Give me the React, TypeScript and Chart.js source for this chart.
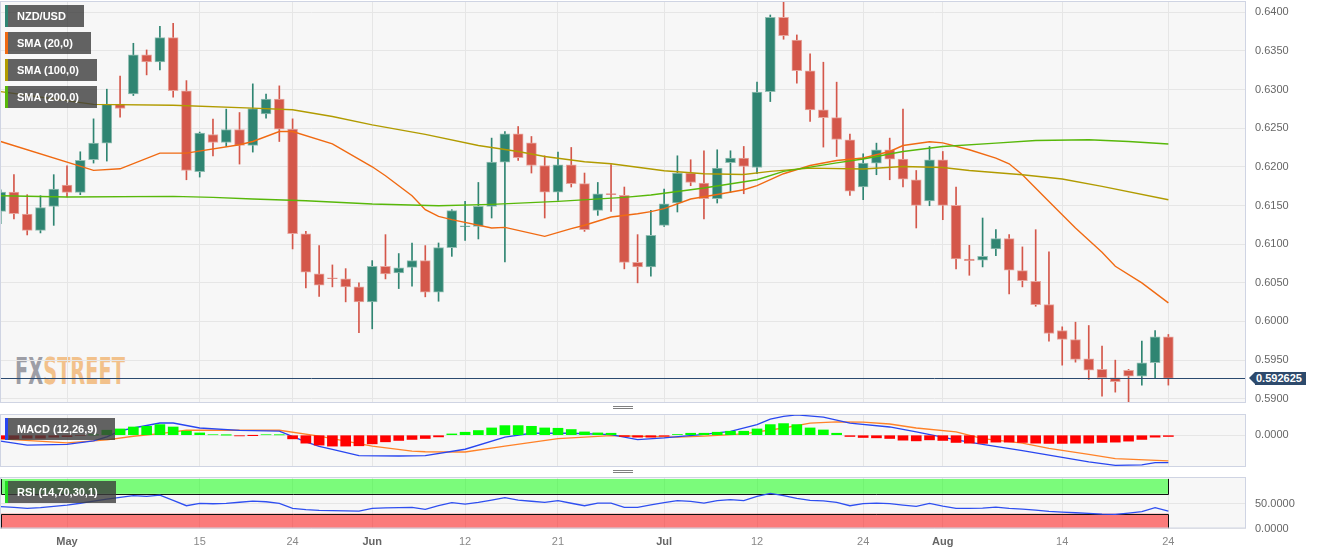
import React, { useEffect, useRef } from "react";
import { Chart, registerables } from "chart.js";

Chart.register(...registerables);

const FONT = "'Liberation Sans', Arial, Helvetica, sans-serif";

// ---------------- categories (trading days) ----------------
const firstDay = "2023-04-24";
const dayCount = 89;
function tradingDays(start: string, n: number): string[] {
  const out: string[] = [];
  const d = new Date(start + "T00:00:00Z");
  while (out.length < n) {
    const wd = d.getUTCDay();
    if (wd !== 0 && wd !== 6) out.push(d.toISOString().slice(0, 10));
    d.setUTCDate(d.getUTCDate() + 1);
  }
  return out;
}
const dates = tradingDays(firstDay, dayCount);

const xTickDates = ["2023-05-01", "2023-05-15", "2023-05-24", "2023-06-01", "2023-06-12", "2023-06-21", "2023-07-03", "2023-07-12", "2023-07-24", "2023-08-01", "2023-08-14", "2023-08-24"];
const xTickLabels = ["May", "15", "24", "Jun", "12", "21", "Jul", "12", "24", "Aug", "14", "24"];
const monthLabels = ["May", "Jun", "Jul", "Aug"];

const priceTicks = [0.59, 0.595, 0.6, 0.605, 0.61, 0.615, 0.62, 0.625, 0.63, 0.635, 0.64];
const macdTicks = [0];
const rsiTicks = [0, 50];

// ---------------- NZD/USD daily candles ----------------
const opens = [
  0.61424, 0.61674, 0.6139, 0.61178, 0.61488,
  0.61765, 0.61669, 0.62092, 0.62307, 0.62811,
  0.62944, 0.63448, 0.63358, 0.63672, 0.62983,
  0.61937, 0.62419, 0.62315, 0.62483, 0.62277,
  0.62686, 0.62876, 0.62488, 0.61132, 0.60615,
  0.60565, 0.6055, 0.60447, 0.60253, 0.60713,
  0.60628, 0.607, 0.60787, 0.60377, 0.60955,
  0.61225, 0.6123, 0.61488, 0.62062, 0.62428,
  0.62311, 0.62018, 0.61674, 0.62027, 0.61782,
  0.61437, 0.61649, 0.61631, 0.60765, 0.60705,
  0.61243, 0.61532, 0.6192, 0.61791, 0.61588,
  0.62053, 0.62114, 0.61992, 0.62974, 0.63935,
  0.63642, 0.63242, 0.62738, 0.62638, 0.6235,
  0.61739, 0.62049, 0.62221, 0.62101, 0.61833,
  0.61558, 0.62092, 0.61501, 0.60806, 0.60791,
  0.60938, 0.61071, 0.60658, 0.60519, 0.60218,
  0.59882, 0.59766, 0.59517, 0.59379, 0.59271,
  0.59366, 0.59292, 0.59465, 0.59801,
];
const highs = [
  0.61704, 0.61899, 0.6164, 0.61627, 0.61899,
  0.62014, 0.62195, 0.62621, 0.63005, 0.63173,
  0.63599, 0.63513, 0.63819, 0.63858, 0.63116,
  0.6245, 0.62618, 0.62747, 0.62703, 0.63074,
  0.62941, 0.63048, 0.62621, 0.61165, 0.60981,
  0.60731, 0.60683, 0.60499, 0.60787, 0.61123,
  0.60878, 0.61015, 0.60981, 0.61015, 0.61446,
  0.61553, 0.61798, 0.62372, 0.62457, 0.62522,
  0.62393, 0.62143, 0.62191, 0.62251, 0.6192,
  0.61798, 0.62031, 0.61739, 0.61123, 0.61437,
  0.61713, 0.62143, 0.62092, 0.62208, 0.62221,
  0.62208, 0.62264, 0.63096, 0.63965, 0.64129,
  0.63707, 0.63461, 0.63354, 0.63096, 0.62424,
  0.62169, 0.62307, 0.62372, 0.62747, 0.61953,
  0.62264, 0.62199, 0.61739, 0.60985, 0.61338,
  0.61187, 0.61123, 0.60964, 0.61187, 0.60899,
  0.5993, 0.5999, 0.59947, 0.5968, 0.59499,
  0.59379, 0.59744, 0.59882, 0.59831,
];
const lows = [
  0.61265, 0.61326, 0.61119, 0.61145, 0.61243,
  0.6161, 0.6164, 0.62049, 0.62075, 0.62643,
  0.62923, 0.6319, 0.63255, 0.62902, 0.61833,
  0.61868, 0.62143, 0.62264, 0.62036, 0.62191,
  0.6263, 0.62328, 0.60938, 0.60434, 0.60325,
  0.60447, 0.60253, 0.59853, 0.59904, 0.6055,
  0.60425, 0.60455, 0.60318, 0.60261, 0.60842,
  0.61049, 0.61067, 0.61338, 0.6077, 0.62083,
  0.6192, 0.61338, 0.61566, 0.61739, 0.61165,
  0.61372, 0.61424, 0.6068, 0.60499, 0.60584,
  0.6123, 0.61416, 0.61756, 0.61326, 0.61532,
  0.61669, 0.61652, 0.61911, 0.62845, 0.63651,
  0.63083, 0.62587, 0.62256, 0.62134, 0.61631,
  0.61575, 0.61898, 0.61833, 0.61739, 0.61209,
  0.61497, 0.61316, 0.6068, 0.60597, 0.60705,
  0.60851, 0.60357, 0.60447, 0.60196, 0.59744,
  0.59434, 0.59473, 0.59249, 0.59034, 0.59085,
  0.58949, 0.59176, 0.59271, 0.59176,
];
const closes = [
  0.61674, 0.61394, 0.61178, 0.61472, 0.61713,
  0.61669, 0.62083, 0.62307, 0.62811, 0.62755,
  0.63448, 0.63358, 0.63672, 0.62987, 0.61953,
  0.62437, 0.62315, 0.62483, 0.62277, 0.62755,
  0.62876, 0.62488, 0.61136, 0.60636, 0.60468,
  0.60552, 0.60447, 0.60253, 0.60713, 0.60615,
  0.60692, 0.60787, 0.60377, 0.60955, 0.61433,
  0.61235, 0.61488, 0.62062, 0.62428, 0.62118,
  0.62018, 0.61674, 0.62027, 0.61782, 0.61187,
  0.61652, 0.6164, 0.60765, 0.60705, 0.61114,
  0.61523, 0.6192, 0.61798, 0.61588, 0.61984,
  0.62114, 0.62005, 0.62966, 0.63935, 0.63698,
  0.63245, 0.62738, 0.62638, 0.62354, 0.61687,
  0.62049, 0.62221, 0.62101, 0.61842, 0.61501,
  0.62092, 0.61501, 0.60809, 0.60787, 0.60842,
  0.61071, 0.60662, 0.60528, 0.60218, 0.59844,
  0.59766, 0.59508, 0.59369, 0.59271, 0.5922,
  0.59292, 0.59465, 0.59801, 0.592625,
];

// ---------------- moving averages: [day index, value] ----------------
const sma20Pts: [number, number][] = [
  [0, 0.62328], [7, 0.61954], [9, 0.61975], [12, 0.62178], [14, 0.62178], [18, 0.62286], [19, 0.62328],
  [21, 0.62457], [22, 0.62457], [25, 0.62298], [28, 0.62001], [29, 0.61885], [31, 0.61627], [32, 0.61446],
  [33, 0.61359], [34, 0.61317], [37, 0.61209], [38, 0.61217], [41, 0.61101], [43, 0.612], [44, 0.61245],
  [46, 0.61351], [48, 0.61394], [49, 0.6142], [50, 0.61459], [52, 0.61584], [54, 0.61643], [56, 0.61704],
  [57, 0.61756], [59, 0.61911], [61, 0.62018], [63, 0.62083], [65, 0.62114], [67, 0.62199], [68, 0.62276],
  [70, 0.62324], [71, 0.62311], [73, 0.62221], [75, 0.62114], [76, 0.6204], [77, 0.61898], [79, 0.61553],
  [81, 0.61209], [83, 0.60894], [84, 0.60713], [86, 0.60499], [88, 0.6024],
];
const sma100Pts: [number, number][] = [
  [0, 0.62974], [7, 0.62809], [13, 0.62798], [19, 0.6276], [22, 0.62738], [25, 0.62651], [28, 0.62544],
  [32, 0.62421], [36, 0.62276], [39, 0.62199], [41, 0.62134], [44, 0.62066], [46, 0.6204], [50, 0.6195],
  [53, 0.61911], [56, 0.61902], [58, 0.61941], [61, 0.61984], [65, 0.61972], [68, 0.62005], [71, 0.61992],
  [73, 0.61953], [77, 0.61898], [80, 0.61842], [83, 0.61747], [88, 0.61575],
];
const sma200Pts: [number, number][] = [
  [0, 0.61627], [5, 0.6161], [13, 0.61618], [16, 0.61605], [19, 0.61584], [23, 0.61562], [28, 0.61519],
  [33, 0.61497], [37, 0.61514], [42, 0.61553], [47, 0.61605], [49, 0.61636], [53, 0.61726], [57, 0.61833],
  [59, 0.61941], [63, 0.62052], [65, 0.62101], [68, 0.62199], [71, 0.62264], [75, 0.62307], [78, 0.62341],
  [82, 0.6235], [85, 0.62328], [88, 0.62295],
];

// ---------------- MACD (12,26,9) ----------------
const macdPts: [number, number][] = [
  [0, -0.00112], [2, -0.00187], [5, -0.00175], [7, -0.00106], [8, -0.00032], [9, 0.0008], [10, 0.00136],
  [12, 0.0023], [13, 0.0023], [15, 0.00136], [18, 0.0009], [21, 0.00075], [23, -0.00125], [24, -0.00209],
  [25, -0.00269], [27, -0.00386], [30, -0.00392], [32, -0.00386], [35, -0.00265], [38, -0.00037], [40, 0.00037],
  [43, 0.00037], [46, 0.00011], [48, -0.00082], [50, -0.0005], [53, 0.00015], [55, 0.00071], [57, 0.00198],
  [58, 0.00304], [59, 0.00354], [60, 0.00384], [62, 0.00341], [64, 0.00229], [67, 0.00155], [69, 0.00062],
  [72, -0.00088], [74, -0.00172], [77, -0.00293], [79, -0.00377], [82, -0.00504], [84, -0.00569], [86, -0.0056],
  [87, -0.00517], [88, -0.00517],
];
const signalPts: [number, number][] = [
  [0, -0.00069], [5, -0.00144], [8, -0.0009], [10, -0.0002], [12, 0.0003], [14, 0.00093], [17, 0.00093],
  [21, 0.00093], [24, -0.00019], [28, -0.00205], [31, -0.00299], [32, -0.00312], [35, -0.00317], [38, -0.00205],
  [42, -0.00063], [46, -0.00007], [51, -0.00037], [53, -0.00019], [56, 0.00024], [59, 0.00136], [61, 0.00228],
  [63, 0.00253], [65, 0.00245], [67, 0.00211], [69, 0.00136], [72, 0.00062], [74, -0.00063], [77, -0.00149],
  [79, -0.0025], [82, -0.00362], [84, -0.00442], [88, -0.00485],
];
const histogram = [
  -0.00069, -0.00065, -0.00056, -0.00056, -0.00037, -0.00028, -0.00009, 0.00004,
  0.00094, 0.00118, 0.00155, 0.00168, 0.002, 0.00155, 0.00075, 0.00043,
  0.00009, 0.00001, -0.00013, -0.00001, 0.00009, 0.00006,
  -0.00069, -0.0015, -0.00187, -0.00206, -0.00206, -0.002, -0.00163, -0.00125, -0.00099, -0.0008, -0.00062, -0.00032,
  0.00024, 0.00056, 0.00088, 0.00137, 0.00181, 0.00181, 0.00168, 0.00137, 0.00131, 0.00107, 0.00062, 0.00043, 0.00037,
  -0.00024, -0.00037, -0.00037, -0.00019,
  0.00013, 0.00037, 0.00037, 0.00056, 0.00075, 0.00075, 0.00118, 0.002, 0.00219, 0.002, 0.00137, 0.00099, 0.00037,
  -0.00024, -0.00043, -0.0005, -0.00062, -0.00094, -0.00107, -0.00088, -0.00099, -0.00137, -0.0015, -0.00155,
  -0.00131, -0.00131, -0.00137, -0.0015, -0.00155, -0.00155, -0.0015, -0.0015, -0.00137, -0.00131, -0.00112,
  -0.0008, -0.00037, -0.00024,
];

// ---------------- RSI (14) ----------------
const rsi = [
  44, 42.5, 40.6, 42, 44.5, 47.3, 51, 55.4, 59.4, 63,
  66.3, 65, 67.5, 57, 46, 50.7, 50, 50.7, 53, 55.4,
  54, 50.7, 40.6, 38, 36.5, 36, 35.5, 35.1, 40.6, 41.5,
  42, 42.6, 38.5, 46, 52.1, 49.3, 52.7, 57.5, 62.3, 57.4,
  55, 52.7, 56.2, 51, 46, 51.3, 51.3, 42.6, 42.6, 47.5,
  52.1, 56.2, 54.8, 51.3, 56.2, 58.2, 56.2, 64.9, 71, 66.3,
  60.9, 56.8, 55.8, 52.7, 46, 50.1, 51.3, 50.1, 47.3, 44.6,
  50.7, 45.2, 40.6, 40.6, 41.2, 43.2, 40.6, 39.1, 37.1, 34.5,
  33.1, 31.8, 30.4, 29, 28.4, 31, 33.9, 42, 35.1,
];
const rsiOverbought = 70;
const rsiOversold = 30;
const rsiTop = 100;
const rsiBottom = 0;

// ---------------- styling ----------------
const GREEN = "#2f8572";
const RED = "#d4574a";
const GREEN_EDGE = "#93beb3";
const RED_EDGE = "#e7a79f";
const GRID = "#e6e6e6";
const FRAME = "#cfd4e3";
const X_MIN = -0.05;
const X_MAX = 93.85;
const AXIS_W = 77;

const toXY = (p: [number, number][]) => p.map(([x, y]) => ({ x, y }));

function Tag({ top, color, text }: { top: number; color: string; text: string }) {
  return (
    <div
      style={{
        position: "absolute",
        left: 5,
        top,
        height: 22,
        background: "rgba(60,60,60,0.8)",
        borderLeft: `3px solid ${color}`,
        padding: "0 18px 0 9px",
        color: "#fff",
        fontFamily: FONT,
        fontWeight: "bold",
        fontSize: 11,
        lineHeight: "22px",
        whiteSpace: "nowrap",
        boxSizing: "border-box",
      }}
    >
      {text}
    </div>
  );
}

function Handle({ top }: { top: number }) {
  return (
    <div
      style={{
        position: "absolute",
        left: 613,
        top,
        width: 20,
        height: 1,
        borderTop: "1px solid #808080",
        borderBottom: "1px solid #808080",
      }}
    />
  );
}

export default function App() {
  const mainRef = useRef<HTMLCanvasElement | null>(null);
  const macdRef = useRef<HTMLCanvasElement | null>(null);
  const rsiRef = useRef<HTMLCanvasElement | null>(null);
  const tagRef = useRef<HTMLDivElement | null>(null);

  useEffect(() => {
    Chart.defaults.font.family = FONT;
    Chart.defaults.font.size = 11;
    const n = dates.length;
    const idx = dates.map((_, i) => i);
    const xTickIdx = xTickDates.map((d) => dates.indexOf(d));
    const labelAt = (v: number) => {
      const k = xTickIdx.indexOf(Math.round(v));
      return k >= 0 ? xTickLabels[k] : "";
    };
    const isMonth = (v: number) => monthLabels.includes(labelAt(v));
    const up = idx.map((i) => closes[i] >= opens[i]);

    const xAxis = (show: boolean, h: number): any => ({
      type: "linear",
      min: X_MIN,
      max: X_MAX,
      offset: false,
      afterBuildTicks: (s: any) => {
        s.ticks = xTickIdx.map((v) => ({ value: v }));
      },
      afterFit: (s: any) => {
        s.height = h;
        s.paddingLeft = 0;
        s.paddingRight = 0;
      },
      grid: { color: GRID, drawTicks: false, offset: false },
      border: { display: false },
      ticks: {
        display: show,
        autoSkip: false,
        maxRotation: 0,
        minRotation: 0,
        padding: 7,
        callback: (v: any) => labelAt(Number(v)),
        font: (c: any) => ({ family: FONT, size: 11, weight: isMonth(c.tick ? c.tick.value : -1) ? "bold" : "normal" }),
        color: (c: any) => (isMonth(c.tick ? c.tick.value : -1) ? "#666" : "#888"),
      },
    });
    const yAxis = (min: number, max: number, ticks: number[]): any => ({
      position: "right",
      min,
      max,
      afterBuildTicks: (s: any) => {
        s.ticks = ticks.map((v) => ({ value: v }));
      },
      afterFit: (s: any) => {
        s.width = AXIS_W;
        s.paddingTop = 0;
        s.paddingBottom = 0;
      },
      grid: { color: GRID, drawTicks: false },
      border: { display: false },
      ticks: { padding: 9, color: "#666", font: { family: FONT, size: 11 }, callback: (v: any) => Number(v).toFixed(4) },
    });
    const frame = (bg: boolean) => ({
      id: "frame" + (bg ? "bg" : ""),
      beforeDraw(chart: any) {
        if (!bg) return;
        const { ctx, chartArea: a } = chart;
        ctx.save();
        ctx.fillStyle = "#f7f7f7";
        ctx.fillRect(a.left, a.top, a.right - a.left, a.bottom - a.top);
        ctx.restore();
      },
      afterDraw(chart: any) {
        const { ctx, chartArea: a } = chart;
        ctx.save();
        ctx.strokeStyle = FRAME;
        ctx.lineWidth = 1;
        ctx.strokeRect(a.left + 0.5, a.top + 0.5, a.right - a.left - 1, a.bottom - a.top - 1);
        ctx.restore();
      },
    });
    const common: any = {
      responsive: false,
      maintainAspectRatio: false,
      animation: false,
      events: [],
      plugins: { legend: { display: false }, tooltip: { enabled: false } },
    };

    const last = closes[n - 1];
    const priceLine = {
      id: "priceLine",
      afterDatasetsDraw(chart: any) {
        const { ctx, chartArea: a } = chart;
        const y = Math.round(chart.scales.y.getPixelForValue(last)) + 0.5;
        ctx.save();
        ctx.strokeStyle = "#2b4a6f";
        ctx.lineWidth = 1;
        ctx.beginPath();
        ctx.moveTo(a.left, y);
        ctx.lineTo(a.right, y);
        ctx.stroke();
        ctx.restore();
      },
    };

    const main = new Chart(mainRef.current as HTMLCanvasElement, {
      type: "bar",
      data: {
        datasets: [
          {
            type: "bar",
            data: idx.map((i) => ({ x: i, y: [lows[i], highs[i]] })) as any,
            backgroundColor: up.map((u) => (u ? GREEN : RED)),
            barThickness: 1,
            grouped: false,
            order: 3,
            clip: 0,
          } as any,
          {
            type: "bar",
            data: idx.map((i) => ({ x: i, y: [opens[i], closes[i]] })) as any,
            backgroundColor: up.map((u) => (u ? GREEN : RED)),
            borderColor: up.map((u) => (u ? GREEN_EDGE : RED_EDGE)),
            borderWidth: 1,
            borderSkipped: false,
            barThickness: 10,
            minBarLength: 1,
            grouped: false,
            order: 2,
            clip: 0,
          } as any,
          { type: "line", data: toXY(sma200Pts), borderColor: "#58b80a", borderWidth: 1.4, pointRadius: 0, tension: 0, order: 1 } as any,
          { type: "line", data: toXY(sma100Pts), borderColor: "#b19b00", borderWidth: 1.4, pointRadius: 0, tension: 0, order: 1 } as any,
          { type: "line", data: toXY(sma20Pts), borderColor: "#f06a12", borderWidth: 1.4, pointRadius: 0, tension: 0, order: 1 } as any,
        ],
      },
      options: {
        ...common,
        layout: { padding: { top: 1, bottom: 1, left: 0, right: 0 } },
        scales: { x: xAxis(false, 0), y: yAxis(0.589444, 0.641461, priceTicks) },
      },
      plugins: [priceLine, frame(false)],
    });

    if (tagRef.current) {
      const py = main.scales.y.getPixelForValue(last);
      tagRef.current.style.top = `${py - 6.75}px`;
    }

    const macd = new Chart(macdRef.current as HTMLCanvasElement, {
      type: "bar",
      data: {
        datasets: [
          {
            type: "bar",
            data: idx.map((i) => ({ x: i, y: histogram[i] })) as any,
            backgroundColor: histogram.map((v) => (v >= 0 ? "#00ff00" : "#ff0000")),
            barThickness: 10,
            grouped: false,
            order: 1,
          } as any,
          { type: "line", data: toXY(signalPts), borderColor: "#ff8228", borderWidth: 1.3, pointRadius: 0, tension: 0, order: 3 } as any,
          { type: "line", data: toXY(macdPts), borderColor: "#2846f0", borderWidth: 1.3, pointRadius: 0, tension: 0, order: 2 } as any,
        ],
      },
      options: {
        ...common,
        layout: { padding: { top: 1, bottom: 1, left: 0, right: 0 } },
        scales: { x: xAxis(false, 0), y: yAxis(-0.006, 0.004, macdTicks) },
      },
      plugins: [frame(true)],
    });

    const bands = {
      id: "bands",
      beforeDatasetsDraw(chart: any) {
        const { ctx, chartArea: a, scales } = chart;
        const x0 = scales.x.getPixelForValue(0);
        const x1 = scales.x.getPixelForValue(n - 1);
        const yv = (v: number) => scales.y.getPixelForValue(v);
        ctx.save();
        ctx.beginPath();
        ctx.rect(a.left, a.top, a.right - a.left, a.bottom - a.top);
        ctx.clip();
        ctx.fillStyle = "rgba(0,255,0,0.5)";
        ctx.fillRect(x0, yv(rsiTop), x1 - x0, yv(rsiOverbought) - yv(rsiTop));
        ctx.fillStyle = "rgba(255,0,0,0.5)";
        ctx.fillRect(x0, yv(rsiOversold), x1 - x0, yv(rsiBottom) - yv(rsiOversold));
        ctx.strokeStyle = "#111";
        ctx.lineWidth = 1;
        const yO = Math.round(yv(rsiOverbought)) + 0.5;
        const yS = Math.round(yv(rsiOversold)) + 0.5;
        const xr = Math.round(x1) + 0.5;
        const xl = Math.max(a.left + 0.5, Math.round(x0) + 0.5);
        ctx.beginPath();
        ctx.moveTo(xl, yv(rsiTop));
        ctx.lineTo(xl, yO);
        ctx.lineTo(xr, yO);
        ctx.lineTo(xr, yv(rsiTop));
        ctx.moveTo(xl, yv(rsiBottom));
        ctx.lineTo(xl, yS);
        ctx.lineTo(xr, yS);
        ctx.lineTo(xr, yv(rsiBottom));
        ctx.stroke();
        ctx.restore();
      },
    };

    const rsiChart = new Chart(rsiRef.current as HTMLCanvasElement, {
      type: "line",
      data: {
        datasets: [
          { data: idx.map((i) => ({ x: i, y: rsi[i] })), borderColor: "#2f4ff0", borderWidth: 1.3, pointRadius: 0, tension: 0 } as any,
        ],
      },
      options: {
        ...common,
        layout: { padding: { top: 1, bottom: 0, left: 0, right: 0 } },
        scales: { x: xAxis(true, 26.5), y: yAxis(0, 104, rsiTicks) },
      },
      plugins: [frame(true), bands],
    });

    return () => {
      main.destroy();
      macd.destroy();
      rsiChart.destroy();
    };
  }, []);

  const lastText = closes[closes.length - 1].toFixed(6);

  return (
    <div style={{ position: "absolute", left: 0, top: 0, width: 1323, height: 555, background: "#fff", overflow: "hidden", fontFamily: FONT }}>
      <div style={{ position: "absolute", left: 0, top: 1, width: 1246, height: 402, background: "#f7f7f7" }} />
      <svg style={{ position: "absolute", left: 0, top: 350 }} width={140} height={40}>
        <text
          x={15}
          y={34}
          fontFamily="'DejaVu Sans Condensed', 'Liberation Sans Narrow', 'DejaVu Sans', sans-serif"
          fontWeight="bold"
          fontSize={37}
          textLength={110}
          lengthAdjust="spacingAndGlyphs"
        >
          <tspan fill="#9d9ea6">FX</tspan>
          <tspan fill="#f2c18b">STREET</tspan>
        </text>
      </svg>
      <canvas ref={mainRef} width={1323} height={404} style={{ position: "absolute", left: 0, top: 0 }} />
      <canvas ref={macdRef} width={1323} height={55} style={{ position: "absolute", left: 0, top: 413 }} />
      <canvas ref={rsiRef} width={1323} height={79} style={{ position: "absolute", left: 0, top: 476 }} />
      <Handle top={406} />
      <Handle top={470} />
      <Tag top={5} color={GREEN} text="NZD/USD" />
      <Tag top={32} color="#f06a12" text="SMA (20,0)" />
      <Tag top={59} color="#b19b00" text="SMA (100,0)" />
      <Tag top={86} color="#58b80a" text="SMA (200,0)" />
      <Tag top={418} color="#2846f0" text="MACD (12,26,9)" />
      <Tag top={481} color="#22dd22" text="RSI (14,70,30,1)" />
      <div ref={tagRef} style={{ position: "absolute", left: 1249, top: 372, height: 13.5 }}>
        <div
          style={{
            position: "absolute",
            left: 0,
            top: 0,
            width: 0,
            height: 0,
            borderTop: "6.75px solid transparent",
            borderBottom: "6.75px solid transparent",
            borderRight: "6px solid #2d4a6c",
          }}
        />
        <div
          style={{
            position: "absolute",
            left: 6,
            top: 0,
            height: 13.5,
            padding: "0 4px 0 1px",
            background: "#2d4a6c",
            color: "#fff",
            fontFamily: FONT,
            fontWeight: "bold",
            fontSize: 11,
            lineHeight: "13.5px",
            whiteSpace: "nowrap",
          }}
        >
          {lastText}
        </div>
      </div>
    </div>
  );
}
